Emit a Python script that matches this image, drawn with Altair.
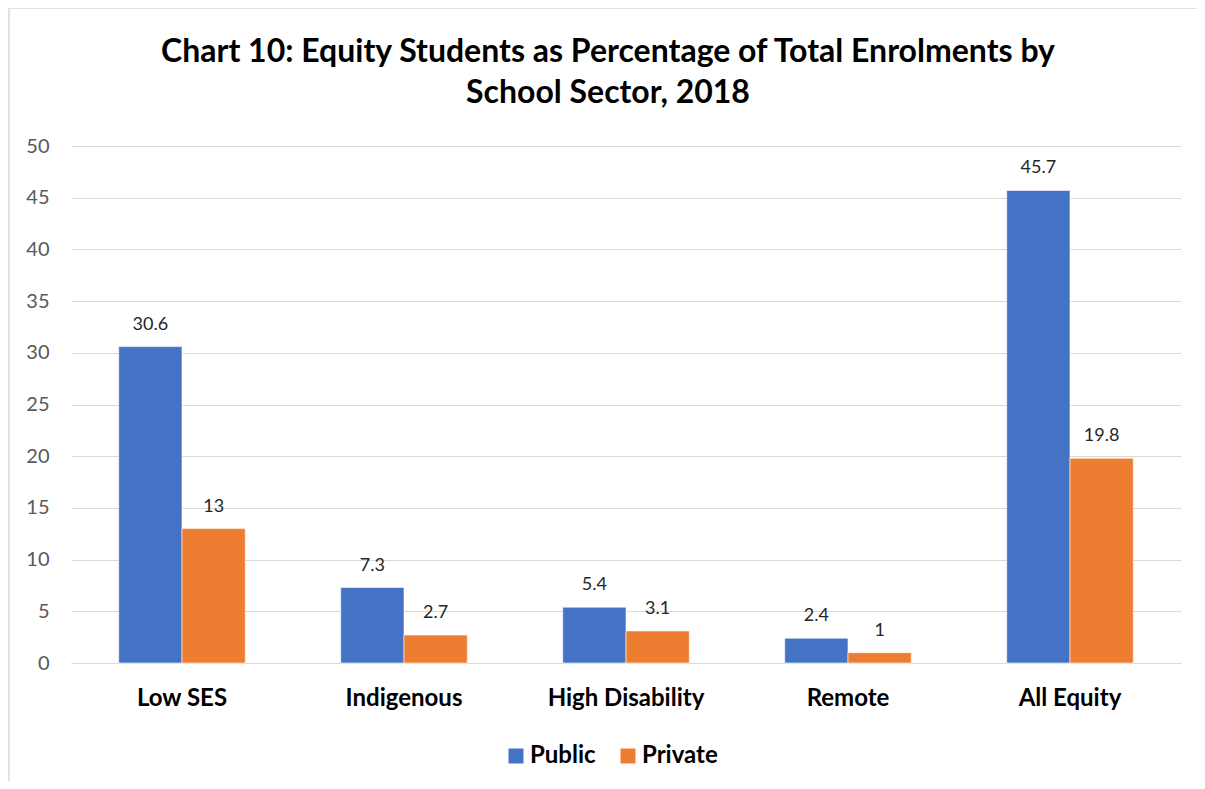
import altair as alt
import pandas as pd

categories = ["Low SES", "Indigenous", "High Disability", "Remote", "All Equity"]
public_vals = [30.6, 7.3, 5.4, 2.4, 45.7]
private_vals = [13, 2.7, 3.1, 1, 19.8]
sectors = ["Public", "Private"]
colors = ["#4472C4", "#ED7D31"]
title_text = ("Chart 10: Equity Students as Percentage of Total Enrolments by\n"
              "School Sector, 2018")

rows = []
for c, pu, pr in zip(categories, public_vals, private_vals):
    rows.append({"cat": c, "sector": "Public", "value": pu, "label": f"{pu:g}"})
    rows.append({"cat": c, "sector": "Private", "value": pr, "label": f"{pr:g}"})
df = pd.DataFrame(rows)

FONT = "Lato"

x_enc = alt.X("cat:N", sort=categories, title=None,
              scale=alt.Scale(paddingInner=0.43, paddingOuter=0.215),
              axis=alt.Axis(labelAngle=0, labelFont=FONT, labelFontSize=24,
                            labelFontWeight="bold", labelColor="#000000",
                            labelPadding=23, ticks=False, domain=True,
                            domainColor="#d9d9d9", domainWidth=1.2, grid=False))
y_enc = alt.Y("value:Q", title=None,
              scale=alt.Scale(domain=[0, 50], nice=False),
              axis=alt.Axis(values=list(range(0, 51, 5)), labelFont=FONT,
                            labelFontSize=20, labelColor="#595959", ticks=False,
                            domain=False, labelPadding=22, gridColor="#d9d9d9",
                            gridWidth=1.2))
xoff = alt.XOffset("sector:N", sort=sectors, scale=alt.Scale(domain=sectors))

base = alt.Chart(df)

bars = base.mark_bar(stroke="#ffffff", strokeWidth=0.6).encode(
    x=x_enc, y=y_enc, xOffset=xoff,
    color=alt.Color("sector:N", sort=sectors,
                    scale=alt.Scale(domain=sectors, range=colors),
                    legend=alt.Legend(title=None, orient="none", direction="horizontal",
                                      legendX=433, legendY=598,
                                      labelFont=FONT, labelFontSize=24,
                                      labelFontWeight="bold", labelColor="#000000",
                                      symbolType="square", symbolSize=225,
                                      symbolStrokeWidth=0, labelOffset=2,
                                      columnPadding=20)),
)

labels = base.mark_text(font=FONT, fontSize=18, color="#262626",
                        baseline="alphabetic", dy=-17).encode(
    x=alt.X("cat:N", sort=categories), y="value:Q", xOffset=xoff, text="label:N"
)

one = pd.DataFrame({"a": [0]})
frame = alt.Chart(one).mark_rect(
    fill=None, stroke="#d9d9d9", strokeWidth=1.5
).encode(x=alt.value(-62), x2=alt.value(1200), y=alt.value(-138), y2=alt.value(700))

title = alt.Chart(one).mark_text(
    text=title_text, lineBreak="\n", lineHeight=41, font=FONT, fontSize=32,
    fontWeight="bold", color="#000000", align="center", baseline="alphabetic"
).encode(x=alt.value(537), y=alt.value(-84))

chart = alt.layer(frame, bars, labels, title).properties(
    width=1110, height=517,
    autosize=alt.AutoSizeParams(type="none"),
    padding={"left": 63, "top": 138, "right": 16, "bottom": 118},
).configure(background="white", view=alt.ViewConfig(stroke="transparent"))

chart.save("out.html", embed_options={"renderer": "svg", "actions": False})
